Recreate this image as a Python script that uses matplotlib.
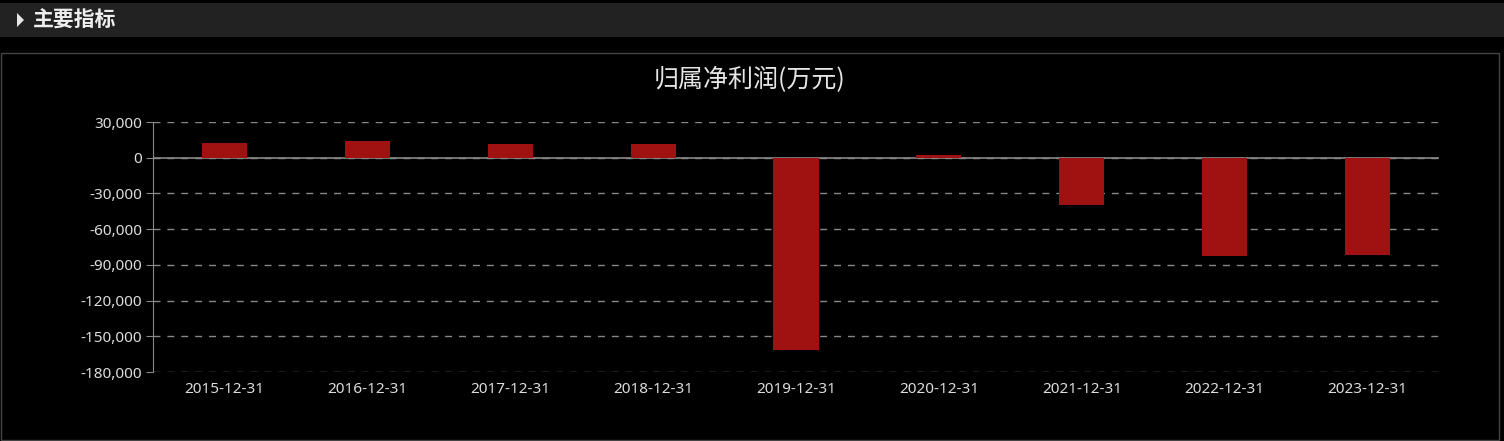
import matplotlib.pyplot as plt
from matplotlib.patches import Rectangle, Polygon
from matplotlib.ticker import FuncFormatter

plt.rcParams['font.family'] = ['Noto Sans CJK SC', 'DejaVu Sans']

# datos
fechas = ["2015-12-31", "2016-12-31", "2017-12-31", "2018-12-31", "2019-12-31",
          "2020-12-31", "2021-12-31", "2022-12-31", "2023-12-31"]
beneficio = [12500, 14400, 11500, 11800, -161500, 1900, -40000, -82500, -81700]
ticks_y = [30000, 0, -30000, -60000, -90000, -120000, -150000, -180000]

W, H = 1504, 441
fig = plt.figure(figsize=(W / 100, H / 100), dpi=100)
fig.patch.set_facecolor("#000000")

# barra de cabecera
fig.patches.append(Rectangle((0, 1 - 37 / H), 1, 34 / H, transform=fig.transFigure,
                             facecolor="#222222", edgecolor="none", zorder=-2))
fig.patches.append(Polygon([(17 / W, 1 - 13 / H), (17 / W, 1 - 27 / H), (24 / W, 1 - 20 / H)],
                           closed=True, transform=fig.transFigure,
                           facecolor="#e6e6e6", edgecolor="none", zorder=-1))
fig.text(33 / W, 1 - 20 / H, "主要指标", color="#eeeeee", fontsize=15,
         fontweight="bold", va="center", ha="left")

# marco del panel
fig.patches.append(Rectangle((1 / W, 1 / H), 1498 / W, (H - 54) / H, transform=fig.transFigure,
                             facecolor="#000000", edgecolor="#444444", linewidth=1, zorder=-2))

fig.text(750 / W, 1 - 80 / H, "归属净利润(万元)", color="#e6e6e6", fontsize=18,
         ha="center", va="center")

ax = fig.add_axes([153 / W, 1 - 372 / H, (1439 - 153) / W, (372 - 122) / H])
ax.set_facecolor("none")
x = range(len(fechas))
ax.bar(x, beneficio, width=0.315, color="#a01212", zorder=3)
ax.set_xlim(-0.5, len(fechas) - 0.5)
ax.set_ylim(-180000, 30000)
ax.set_yticks(ticks_y)
ax.yaxis.set_major_formatter(FuncFormatter(lambda v, p: f"{int(v):,}"))
ax.set_xticks(list(x))
ax.set_xticklabels(fechas)
ax.tick_params(colors="#dddddd", labelsize=11, length=0, pad=8)
ax.tick_params(axis="y", length=5, color="#888888", direction="out", pad=3)
ax.tick_params(axis="x", pad=7)
for lbl in ax.get_xticklabels() + ax.get_yticklabels():
    lbl.set_family(["Noto Sans", "DejaVu Sans"])
ax.grid(axis="y", color="#888888", linestyle=(0, (5, 5)), linewidth=1, zorder=0)
ax.axhline(0, color="#888888", linewidth=1.2, zorder=2)
for s in ["top", "right", "bottom"]:
    ax.spines[s].set_visible(False)
ax.spines["left"].set_color("#888888")

fig.savefig("out.png", dpi=100, facecolor=fig.get_facecolor())
